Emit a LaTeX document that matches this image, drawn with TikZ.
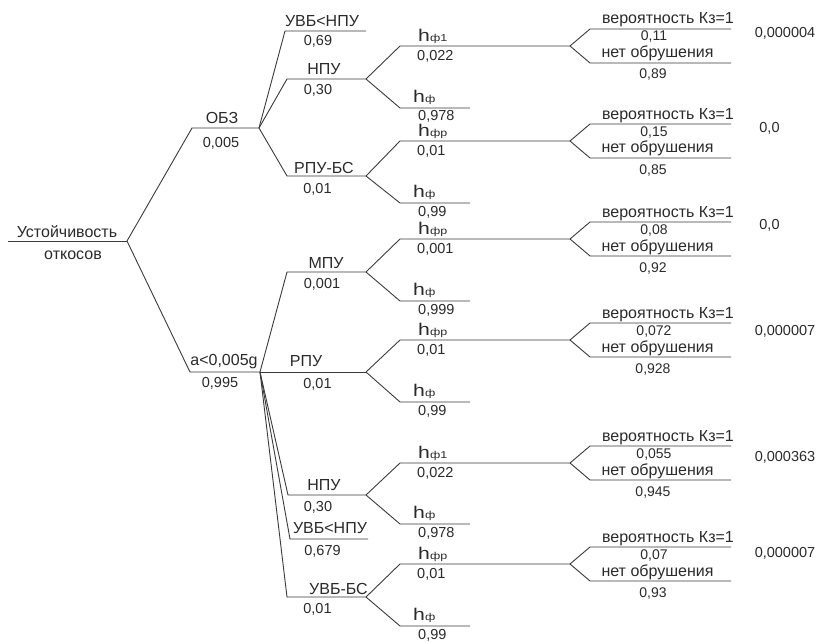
\documentclass[tikz,border=0pt]{standalone}
\usepackage{fontspec}
\setmainfont{Liberation Sans}
\definecolor{ink}{HTML}{2A2A2A}
\definecolor{wire}{HTML}{3A3A3A}
% wide h with a small subscript, as used for the depth labels
\newcommand{\hlab}[1]{\scalebox{1.25}[1]{{\fontsize{17}{17}\selectfont h}{\fontsize{10}{10}\selectfont #1}}}
\begin{document}
\begin{tikzpicture}[x=1pt,y=-1pt,
  wire/.style={draw=wire,line width=0.9pt},
  txt/.style={inner sep=0pt,anchor=base,text=ink},
  lbl/.style={txt,font=\fontsize{16}{16}\selectfont},
  num/.style={txt,font=\fontsize{14.5}{15}\selectfont},
  snum/.style={txt,font=\fontsize{14}{14}\selectfont},
  otxt/.style={txt,font=\fontsize{16}{16}\selectfont},
  hl/.style={txt,anchor=base west},
  hn/.style={num,anchor=base west}]
\useasboundingbox (0,0) rectangle (820,642);

% ---------- root ----------
\coordinate (rootL) at (8,241);
\coordinate (rootR) at (127,241);
\node[lbl] (tRoot1) at (67,237) {Устойчивость};
\node[lbl] (tRoot2) at (73,259) {откосов};
\draw[wire] (rootL) -- (rootR);

% ---------- first level ----------
\coordinate (obzS) at (192,128);
\coordinate (obzE) at (259,128);
\coordinate (aS) at (190,372);
\coordinate (aE) at (260,372);
\draw[wire] (rootR) -- (obzS) -- (obzE);
\draw[wire] (rootR) -- (aS) -- (aE);
\node[lbl] (tObz) at (222,123) {ОБЗ};
\node[num] (pObz) at (221,147) {0,005};
\node[lbl] (tA) at (224,365) {a<0,005g};
\node[num] (pA) at (220,387) {0,995};

% ---------- second level, upper ----------
\coordinate (uvbS) at (285,31);   \coordinate (uvbE) at (366,31);
\coordinate (npuS) at (287,79);   \coordinate (npuE) at (366,79);
\coordinate (rbsS) at (287,176);  \coordinate (rbsE) at (366,176);
\draw[wire] (obzE) -- (uvbS) -- (uvbE);
\draw[wire] (obzE) -- (npuS) -- (npuE);
\draw[wire] (obzE) -- (rbsS) -- (rbsE);
\node[lbl] (tUvb) at (322,27) {УВБ<НПУ};
\node[num] (pUvb) at (318,46) {0,69};
\node[lbl] (tNpu) at (324,75) {НПУ};
\node[num] (pNpu) at (318,95) {0,30};
\node[lbl] (tRbs) at (324,173) {РПУ-БС};
\node[num] (pRbs) at (317.5,193) {0,01};

% ---------- second level, lower ----------
\coordinate (mpuS) at (287,272);  \coordinate (mpuE) at (366,272);
\coordinate (rpuE) at (366,372);
\coordinate (npu2S) at (288,495); \coordinate (npu2E) at (366,495);
\coordinate (uvb2S) at (290,539); \coordinate (uvb2E) at (368,539);
\coordinate (ubsS) at (287,597);  \coordinate (ubsE) at (366,597);
\draw[wire] (aE) -- (mpuS) -- (mpuE);
\draw[wire] (aE) -- (rpuE);
\draw[wire] (aE) -- (npu2S) -- (npu2E);
\draw[wire] (aE) -- (uvb2S) -- (uvb2E);
\draw[wire] (aE) -- (ubsS) -- (ubsE);
\node[lbl] (tMpu) at (326,268) {МПУ};
\node[num] (pMpu) at (322,288) {0,001};
\node[lbl] (tRpu) at (306,366) {РПУ};
\node[num] (pRpu) at (317.5,388) {0,01};
\node[lbl] (tNpu2) at (324,490) {НПУ};
\node[num] (pNpu2) at (318,511) {0,30};
\node[lbl] (tUvb2) at (330,533) {УВБ<НПУ};
\node[num] (pUvb2) at (322.5,555) {0,679};
\node[lbl] (tUbs) at (338.5,594) {УВБ-БС};
\node[num] (pUbs) at (317.5,613) {0,01};

% ---------- third level: h branches ----------
% #1 name, #2 parent end, #3 y of upper branch, #4 y of lower branch,
% #5 upper subscript, #6 upper probability, #7 lower probability
\newcommand{\hfork}[7]{%
  \coordinate (#1uS) at (400,#3); \coordinate (#1uE) at (570,#3);
  \coordinate (#1lS) at (400,#4); \coordinate (#1lE) at (470,#4);
  \draw[wire] (#2) -- (#1uS) -- (#1uE);
  \draw[wire] (#2) -- (#1lS) -- (#1lE);
  \node[hl] (#1hu) at (418,#3-4.5) {\hlab{#5}};
  \node[hn] (#1pu) at (417,#3+14.5) {#6};
  \node[hl] (#1hl) at (413,#4-5.5) {\hlab{ф}};
  \node[hn] (#1pl) at (418,#4+13) {#7};
}
\hfork{ha}{npuE}{46}{108}{ф1}{0,022}{0,978}
\hfork{hb}{rbsE}{141}{203}{фр}{0,01}{0,99}
\hfork{hc}{mpuE}{239}{301}{фр}{0,001}{0,999}
\hfork{hd}{rpuE}{340}{402}{фр}{0,01}{0,99}
\hfork{he}{npu2E}{463}{524}{ф1}{0,022}{0,978}
\hfork{hf}{ubsE}{564}{626}{фр}{0,01}{0,99}

% ---------- outcomes ----------
% #1 name, #2 fork end, #3 y, #4 collapse probability, #5 safe probability,
% #6 result, #7 result x, #8 result baseline
\newcommand{\ofork}[8]{%
  \coordinate (#1uS) at (590,#3-17); \coordinate (#1uE) at (731,#3-17);
  \coordinate (#1lS) at (590,#3+17); \coordinate (#1lE) at (731,#3+17);
  \draw[wire] (#2) -- (#1uS) -- (#1uE);
  \draw[wire] (#2) -- (#1lS) -- (#1lE);
  \node[otxt] (#1tu) at (668,#3-22) {вероятность Кз=1};
  \node[snum] (#1pu) at (654,#3-5) {#4};
  \node[otxt] (#1tl) at (657.5,#3+12) {нет обрушения};
  \node[snum] (#1pl) at (653,#3+33) {#5};
  \node[num] (#1r) at (#7,#8) {#6};
}
\ofork{oa}{hauE}{46}{0,11}{0,89}{0,000004}{785}{38}
\ofork{ob}{hbuE}{141}{0,15}{0,85}{0,0}{769.5}{132}
\ofork{oc}{hcuE}{239}{0,08}{0,92}{0,0}{769.5}{229}
\ofork{od}{hduE}{340}{0,072}{0,928}{0,000007}{785}{335}
\ofork{oe}{heuE}{463}{0,055}{0,945}{0,000363}{785}{461}
\ofork{of}{hfuE}{564}{0,07}{0,93}{0,000007}{785}{557}
\end{tikzpicture}
\end{document}
